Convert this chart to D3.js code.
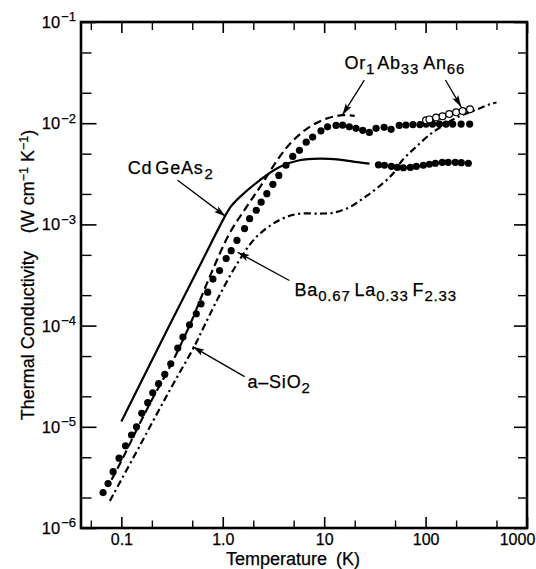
<!DOCTYPE html>
<html>
<head>
<meta charset="utf-8">
<script src="https://d3js.org/d3.v7.min.js"></script>
<style>
  body { margin: 0; background: #fff; }
  svg { display: block; font-family: "Liberation Sans", Arial, Helvetica, sans-serif; }
  text { stroke: #000; stroke-width: 0.25px; }
</style>
</head>
<body>
<svg id="chart" width="536" height="569"></svg>
<script>
// temperature axis (K)
var xMajorTicks = [0.1, 1, 10, 100, 1000];
var xMajorLabels = ["0.1", "1.0", "10", "100", "1000"];
var xMinorTicks = [0.05, 0.2, 0.5, 2, 5, 20, 50, 200, 500];

// thermal conductivity axis (W cm-1 K-1)
var yMajorTicks = [1e-6, 1e-5, 1e-4, 1e-3, 1e-2, 1e-1];
var yMajorExponents = ["\u22126", "\u22125", "\u22124", "\u22123", "\u22122", "\u22121"];
var yMinorTicks = [2e-6, 5e-6, 2e-5, 5e-5, 2e-4, 5e-4, 2e-3, 5e-3, 2e-2, 5e-2];

// CdGeAs2 - solid line below 30 K, filled dots above
var cdgeas2Line = [
  [0.1, 1.13e-5], [0.3, 1.02e-4], [0.6, 4.0e-4], [1.04, 1.18e-3], [1.2, 1.5e-3],
  [1.47, 1.86e-3], [2.31, 2.73e-3], [3.63, 3.7e-3], [5.7, 4.3e-3], [9.0, 4.47e-3],
  [14.1, 4.36e-3], [20, 4.15e-3], [28, 3.99e-3]
];
var cdgeas2Dots = [
  [34.3, 3.88e-3], [39.3, 3.84e-3], [46, 3.75e-3], [52.7, 3.66e-3], [60.4, 3.63e-3],
  [70.8, 3.66e-3], [81.1, 3.75e-3], [95, 3.84e-3], [109, 3.93e-3], [125, 4.02e-3],
  [146, 4.11e-3], [167, 4.11e-3], [196, 4.11e-3], [225, 4.07e-3], [264, 4.02e-3]
];

// Ba0.67La0.33F2.33 - filled dots
var baLaFDots = [
  [0.066, 2.24e-6], [0.074, 2.75e-6], [0.083, 3.6e-6], [0.095, 4.9e-6], [0.11, 6.5e-6],
  [0.126, 8.3e-6], [0.141, 1.0e-5], [0.159, 1.36e-5], [0.182, 1.73e-5], [0.204, 2.17e-5],
  [0.233, 2.67e-5], [0.268, 3.3e-5], [0.307, 4.2e-5], [0.36, 6.0e-5], [0.405, 7.7e-5],
  [0.47, 1.02e-4], [0.548, 1.31e-4], [0.61, 1.64e-4], [0.71, 2.14e-4], [0.80, 2.88e-4],
  [0.93, 3.5e-4], [1.08, 4.6e-4], [1.21, 5.5e-4], [1.38, 6.95e-4], [1.64, 9.1e-4],
  [1.84, 1.14e-3], [2.14, 1.38e-3], [2.39, 1.66e-3], [2.72, 2.01e-3], [3.12, 2.49e-3],
  [3.57, 3.05e-3], [4.2, 3.84e-3], [4.9, 4.7e-3], [5.7, 5.4e-3], [6.65, 6.5e-3],
  [7.7, 7.3e-3], [9.3, 8.4e-3], [10.8, 9.2e-3], [13.1, 9.5e-3], [15.2, 9.55e-3],
  [17.7, 9.2e-3], [20.6, 8.9e-3], [24, 8.5e-3], [27.9, 8.1e-3], [32.5, 8.9e-3],
  [39, 9.1e-3], [45.7, 8.7e-3], [55, 9.5e-3], [64, 9.6e-3], [75, 9.7e-3],
  [88, 9.7e-3], [101, 9.8e-3], [117, 9.8e-3], [137, 9.8e-3], [159, 9.8e-3],
  [185, 9.8e-3], [224, 9.8e-3], [272, 9.8e-3]
];

// Or1Ab33An66 - dashed line, open circles at high T
var orAbAnLine = [
  [0.08, 3.0e-6], [0.1, 4.6e-6], [0.15, 1.05e-5], [0.2, 1.85e-5], [0.3, 3.9e-5],
  [0.47, 1.0e-4], [0.74, 3.0e-4], [1.17, 8.2e-4], [1.71, 1.48e-3], [2.4, 2.45e-3],
  [3.6, 4.6e-3], [4.9, 6.7e-3], [7.2, 9.2e-3], [10.5, 1.11e-2], [15.2, 1.2e-2], [20, 1.18e-2]
];
var orAbAnCircles = [
  [101, 1.07e-2], [109, 1.09e-2], [127, 1.14e-2], [147, 1.17e-2], [171, 1.23e-2],
  [200, 1.28e-2], [232, 1.32e-2], [274, 1.37e-2]
];

// a-SiO2 - dash-dot line
var sio2Line = [
  [0.077, 1.85e-6], [0.15, 6.35e-6], [0.3, 2.3e-5], [0.527, 6.3e-5], [0.66, 1.0e-4],
  [0.93, 2.0e-4], [1.41, 4.2e-4], [2.14, 7.5e-4], [3.6, 1.1e-3], [5.5, 1.27e-3],
  [9, 1.28e-3], [12.2, 1.3e-3], [17.8, 1.48e-3], [26, 1.9e-3], [38, 2.55e-3],
  [48, 3.2e-3], [59, 4.3e-3], [80, 5.8e-3], [113, 7.9e-3], [142, 9.2e-3],
  [200, 1.13e-2], [339, 1.4e-2], [442, 1.55e-2], [500, 1.6e-2]
];

var margin = {top: 22, right: 9, bottom: 41, left: 81};
var width = 536 - margin.left - margin.right;
var height = 569 - margin.top - margin.bottom;

var svg = d3.select('#chart');
var g = svg.append('g').attr('transform', 'translate(' + margin.left + ',' + margin.top + ')');

var x = d3.scaleLog().domain([0.04, 1000]).range([0, width]);
var y = d3.scaleLog().domain([1e-6, 1e-1]).range([height, 0]);

// arrowhead
svg.append('defs').append('marker')
  .attr('id', 'arrow')
  .attr('viewBox', '0 0 12 8')
  .attr('refX', 12).attr('refY', 4)
  .attr('markerWidth', 12).attr('markerHeight', 8)
  .attr('markerUnits', 'userSpaceOnUse')
  .attr('orient', 'auto')
  .append('path')
  .attr('d', 'M0,0.6 L12,4 L0,7.4 L2.5,4 Z')
  .attr('fill', '#000');

// ---- axes ----
function styleAxis(sel, sw) {
  sel.select('.domain').remove();
  sel.attr('font-family', null).attr('font-size', null);
  sel.selectAll('.tick line').attr('stroke', '#000').attr('stroke-width', sw);
}

g.append('g').attr('transform', 'translate(0,' + height + ')')
  .call(d3.axisBottom(x).tickValues(xMinorTicks).tickSizeInner(-7.5).tickSizeOuter(0).tickFormat(''))
  .call(styleAxis, 1.4);
var xAxisG = g.append('g').attr('transform', 'translate(0,' + height + ')')
  .call(d3.axisBottom(x).tickValues(xMajorTicks).tickSizeInner(-11).tickSizeOuter(0).tickPadding(6)
    .tickFormat(function(d, i){ return xMajorLabels[i]; }))
  .call(styleAxis, 1.6);
xAxisG.selectAll('text').style('font-size', '16px').attr('fill', '#000')
  .attr('dx', function(d){ return d === 1000 ? -10 : 0; });

g.append('g')
  .call(d3.axisTop(x).tickValues(xMinorTicks).tickSizeInner(-8).tickSizeOuter(0).tickFormat(''))
  .call(styleAxis, 1.4);
g.append('g')
  .call(d3.axisTop(x).tickValues(xMajorTicks).tickSizeInner(-11).tickSizeOuter(0).tickFormat(''))
  .call(styleAxis, 1.6);

g.append('g')
  .call(d3.axisLeft(y).tickValues(yMinorTicks).tickSizeInner(-10.5).tickSizeOuter(0).tickFormat(''))
  .call(styleAxis, 1.4);
var yAxisG = g.append('g')
  .call(d3.axisLeft(y).tickValues(yMajorTicks).tickSizeInner(-15.5).tickSizeOuter(0).tickPadding(5)
    .tickFormat(''))
  .call(styleAxis, 1.6);
yAxisG.selectAll('.tick text').each(function(d, i){
  var t = d3.select(this).attr('dy', '0.33em').attr('fill', '#000').style('font-size', '16.5px');
  t.text('');
  t.append('tspan').text('10');
  t.append('tspan').attr('dy', -6.5).attr('dx', 1).style('font-size', '13px').text(yMajorExponents[i]);
});

g.append('g').attr('transform', 'translate(' + width + ',0)')
  .call(d3.axisRight(y).tickValues(yMinorTicks).tickSizeInner(-9).tickSizeOuter(0).tickFormat(''))
  .call(styleAxis, 1.4);
g.append('g').attr('transform', 'translate(' + width + ',0)')
  .call(d3.axisRight(y).tickValues(yMajorTicks).tickSizeInner(-13).tickSizeOuter(0).tickFormat(''))
  .call(styleAxis, 1.6);

// frame
g.append('rect')
  .attr('width', width).attr('height', height)
  .attr('fill', 'none').attr('stroke', '#000').attr('stroke-width', 2.6);

// axis titles
svg.append('text')
  .attr('x', 293).attr('y', 565)
  .attr('text-anchor', 'middle')
  .style('font-size', '18px')
  .text('Temperature\u2002(K)');

var yTitle = svg.append('text')
  .attr('transform', 'translate(34,275) rotate(-90)')
  .attr('text-anchor', 'middle')
  .style('font-size', '18px');
yTitle.append('tspan').text('Thermal Conductivity\u2003(W cm');
yTitle.append('tspan').attr('dy', -6.5).style('font-size', '12.5px').text('\u22121');
yTitle.append('tspan').attr('dy', 6.5).text(' K');
yTitle.append('tspan').attr('dy', -6.5).style('font-size', '12.5px').text('\u22121');
yTitle.append('tspan').attr('dy', 6.5).text(')');

// ---- curves ----
var line = d3.line()
  .x(function(d){ return x(d[0]); })
  .y(function(d){ return y(d[1]); })
  .curve(d3.curveCatmullRom.alpha(0.5));

g.append('path').datum(sio2Line)
  .attr('d', line).attr('fill', 'none').attr('stroke', '#000')
  .attr('stroke-width', 2.2).attr('stroke-dasharray', '7,3.5,2.2,3.5');

g.append('path').datum(orAbAnLine)
  .attr('d', line).attr('fill', 'none').attr('stroke', '#000')
  .attr('stroke-width', 2.2).attr('stroke-dasharray', '8,4.5');

g.append('path').datum(cdgeas2Line)
  .attr('d', line).attr('fill', 'none').attr('stroke', '#000')
  .attr('stroke-width', 2.2);

g.selectAll('.ba-dot').data(baLaFDots).enter().append('circle')
  .attr('class', 'ba-dot')
  .attr('cx', function(d){ return x(d[0]); })
  .attr('cy', function(d){ return y(d[1]); })
  .attr('r', 3.6).attr('fill', '#000');

g.selectAll('.cd-dot').data(cdgeas2Dots).enter().append('circle')
  .attr('class', 'cd-dot')
  .attr('cx', function(d){ return x(d[0]); })
  .attr('cy', function(d){ return y(d[1]); })
  .attr('r', 3.6).attr('fill', '#000');

g.selectAll('.or-circle').data(orAbAnCircles).enter().append('circle')
  .attr('class', 'or-circle')
  .attr('cx', function(d){ return x(d[0]); })
  .attr('cy', function(d){ return y(d[1]); })
  .attr('r', 3.4).attr('fill', '#fff').attr('stroke', '#000').attr('stroke-width', 1.2);

// ---- labels and arrows (positions in data units) ----
function chemLabel(at, parts) {
  var t = g.append('text')
    .attr('x', x(at[0])).attr('y', y(at[1]))
    .style('font-size', '18px')
    .style('letter-spacing', '0.8px');
  var inSub = false;
  parts.forEach(function(p){
    var s = t.append('tspan').text(p[0]);
    var sub = p[1] === 'sub';
    if (sub && !inSub) s.attr('dy', 5);
    if (!sub && inSub) s.attr('dy', -5);
    if (sub) s.style('font-size', '15px');
    if (p[2]) s.attr('dx', p[2]);
    inSub = sub;
  });
}

chemLabel([0.1156, 3.13e-3], [['Cd'], ['GeAs', 'base', 3], ['2', 'sub', 1]]);
chemLabel([5.1, 1.98e-4], [['Ba'], ['0.67', 'sub'], ['La', 'base', 4], ['0.33', 'sub'], ['F', 'base', 4], ['2.33', 'sub']]);
chemLabel([1.75, 2.43e-5], [['a\u2013SiO'], ['2', 'sub']]);
chemLabel([15.85, 3.43e-2], [['Or'], ['1', 'sub'], ['Ab', 'base', 2], ['33', 'sub'], ['An', 'base', 4], ['66', 'sub']]);

var arrows = [
  {from: [0.359, 2.73e-3], to: [1.07, 1.2e-3]},
  {from: [4.54, 2.79e-4], to: [1.40, 5.3e-4]},
  {from: [1.64, 3.13e-5], to: [0.504, 6.2e-5]},
  {from: [24.9, 2.67e-2], to: [15.1, 1.2e-2]},
  {from: [157, 2.67e-2], to: [225, 1.44e-2]}
];
g.selectAll('.arrow').data(arrows).enter().append('line')
  .attr('class', 'arrow')
  .attr('x1', function(d){ return x(d.from[0]); })
  .attr('y1', function(d){ return y(d.from[1]); })
  .attr('x2', function(d){ return x(d.to[0]); })
  .attr('y2', function(d){ return y(d.to[1]); })
  .attr('stroke', '#000').attr('stroke-width', 1.3)
  .attr('marker-end', 'url(#arrow)');
</script>
</body>
</html>
